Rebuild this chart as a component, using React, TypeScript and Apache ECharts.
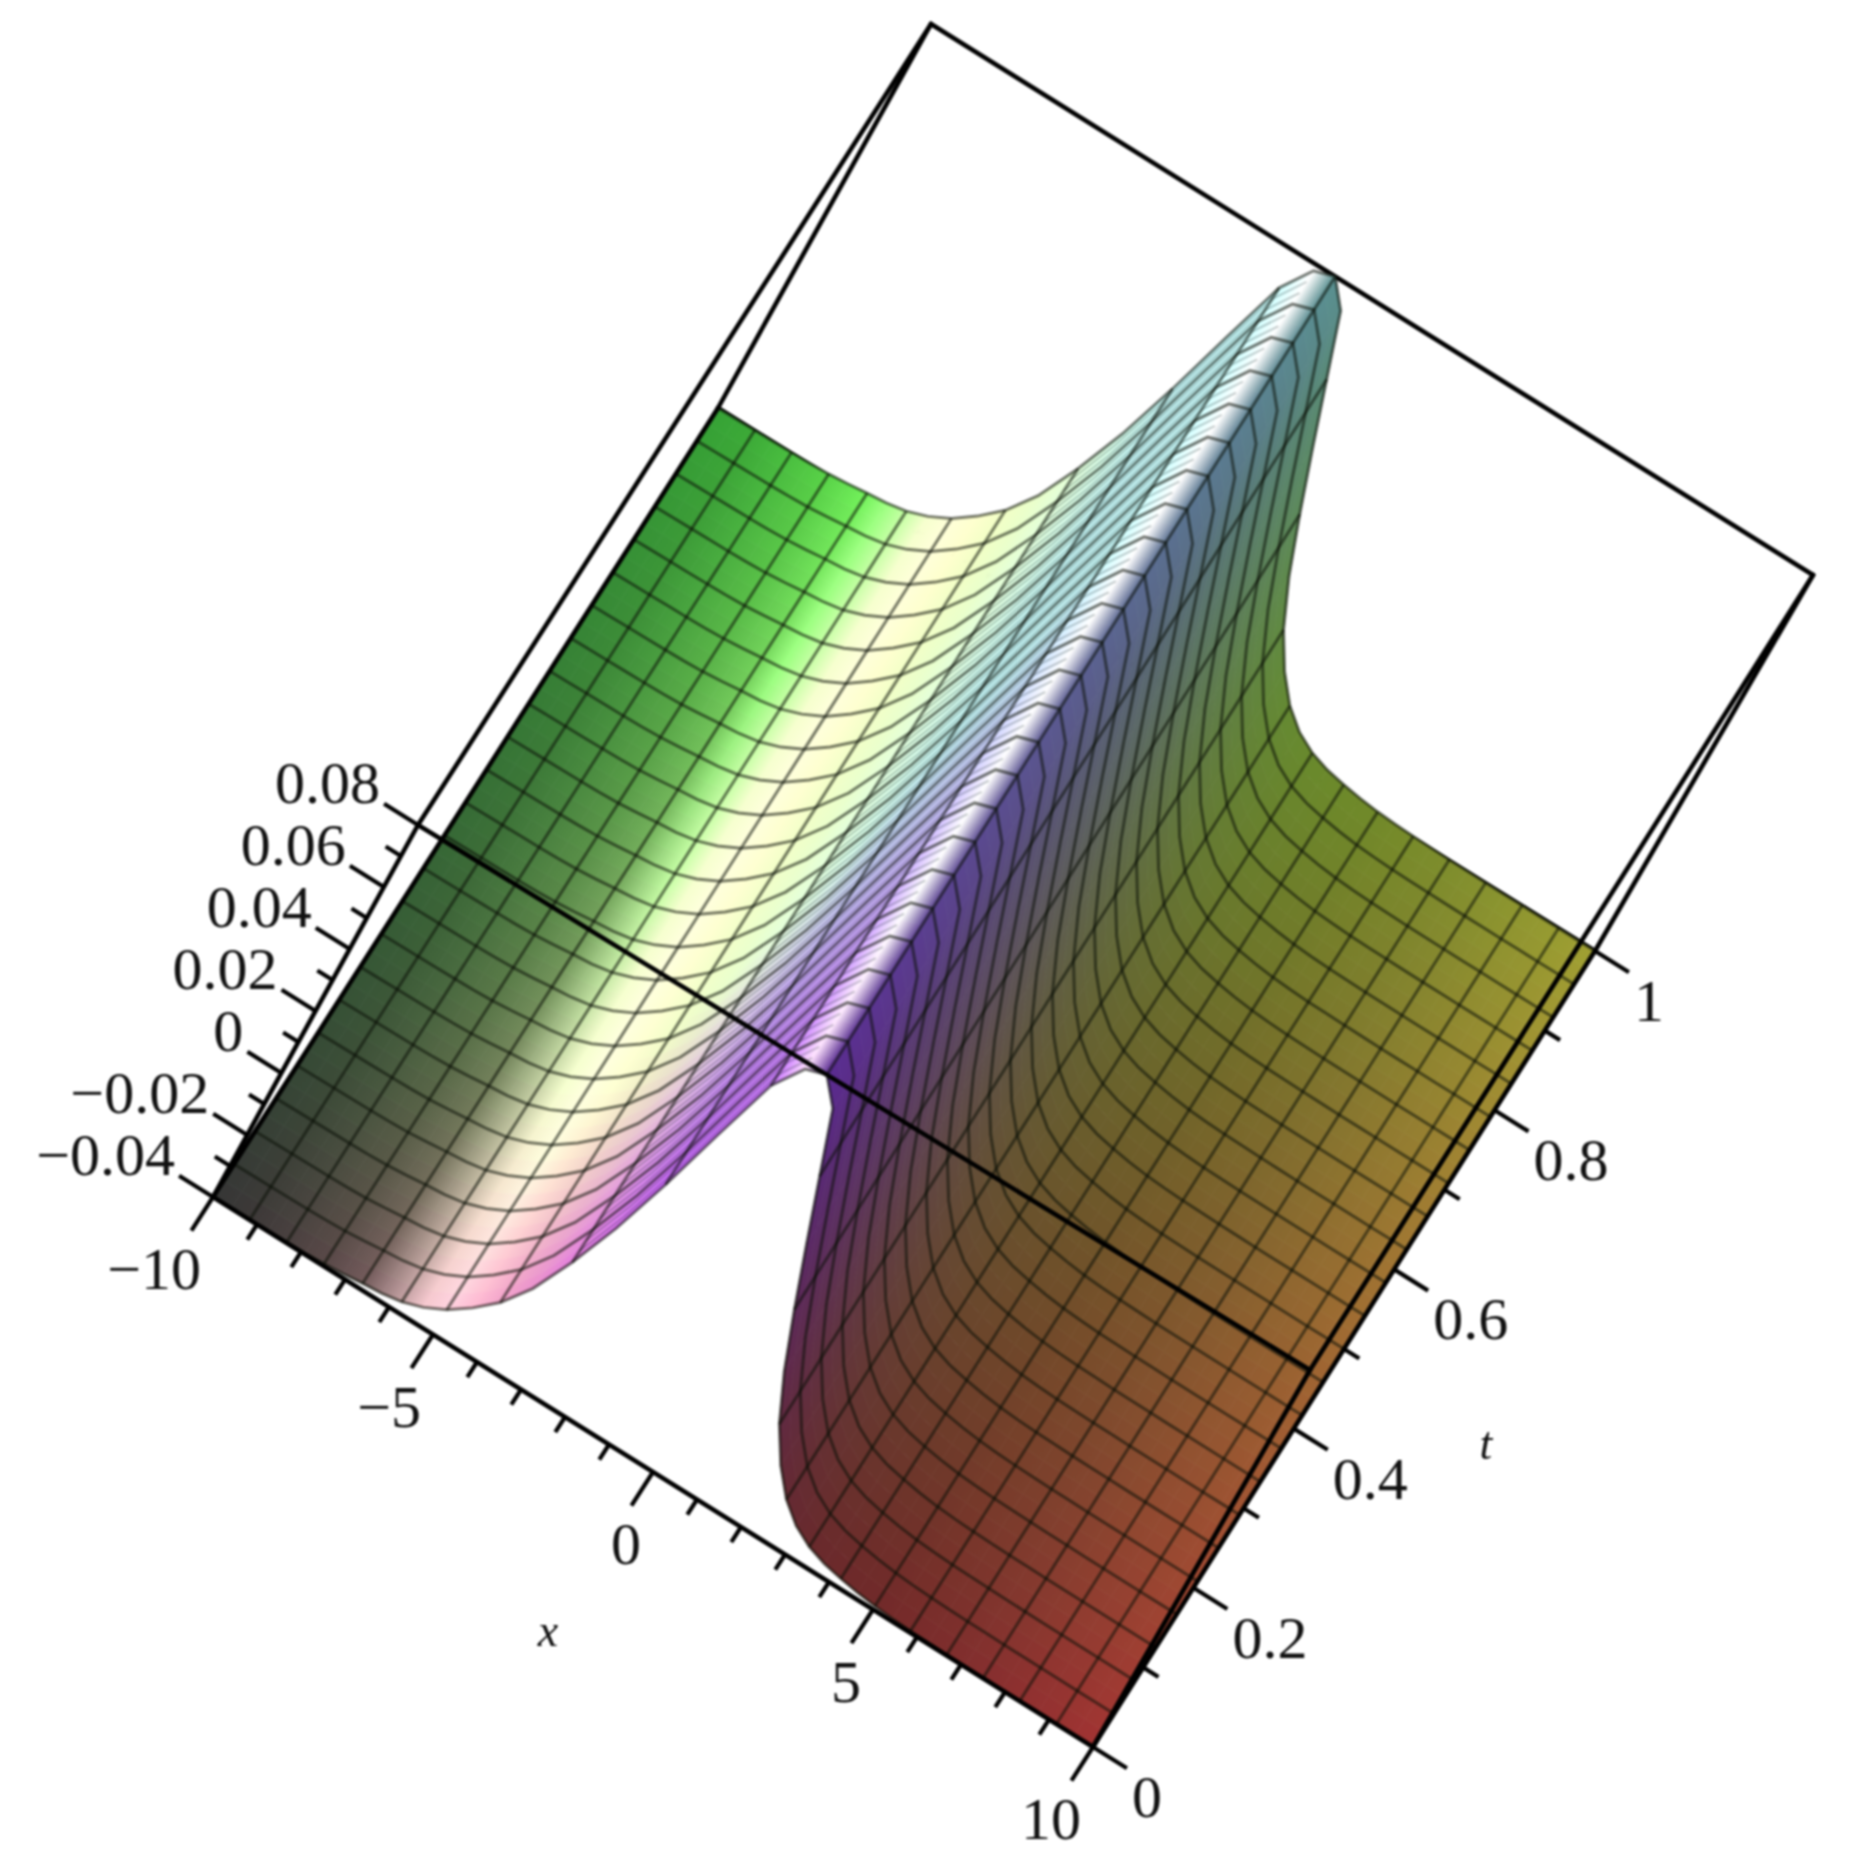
import React, { useEffect, useRef } from "react";
import * as echarts from "echarts";

const W = 1857;
const H = 1868;

// ---- data ----
// height of the surface at 49 equally spaced x from -10 to 10 (the profile does not change with t)
const profileZ = [
  -0.04, -0.03994, -0.03988, -0.03982, -0.03976, -0.03964, -0.0394, -0.03892, -0.03832, -0.03784,
  -0.03688, -0.03496, -0.03208, -0.02776, -0.02236, -0.0142, -0.00208, 0.01244, 0.0302, 0.05,
  0.0692, 0.0782, 0.08, 0.0728, 0.0548, 0.0368, 0.0194, 0.0032, -0.01, -0.0196,
  -0.0268, -0.0316, -0.0346, -0.0364, -0.03748, -0.03832, -0.03892, -0.03928, -0.03952, -0.03964,
  -0.03976, -0.03982, -0.03988, -0.03992, -0.03994, -0.03996, -0.03998, -0.03999, -0.04,
];
const xMajor = [-10, -5, 0, 5, 10];
const xMinor = [-9, -8, -7, -6, -4, -3, -2, -1, 1, 2, 3, 4, 6, 7, 8, 9];
const tMajor = [0, 0.2, 0.4, 0.6, 0.8, 1];
const tMinor = [0.1, 0.3, 0.5, 0.7, 0.9];
const zMajor = [-0.04, -0.02, 0, 0.02, 0.04, 0.06, 0.08];
const zMinor = [-0.03, -0.01, 0.01, 0.03, 0.05, 0.07];
const xLabels = ["\u221210", "\u22125", "0", "5", "10"];
const tLabels = ["0", "0.2", "0.4", "0.6", "0.8", "1"];
const zLabels = ["\u22120.04", "\u22120.02", "0", "0.02", "0.04", "0.06", "0.08"];

// lighting, per mesh column
const shadeIdx = [0, 1, 2, 3, 4, 5, 5.5, 6, 7, 8, 9, 10, 10.25, 10.5, 10.75, 11, 12, 14, 18, 20, 24];
const shadeS = [0.21, 0.22, 0.25, 0.28, 0.35, 0.63, 0.78, 0.82, 0.63, 0.49, 0.39, 0.47, 0.65, 0.88, 0.6, 0.17, 0.16, 0.16, 0.16, 0.176, 0.2];
const shadeD = [0.43, 0.45, 0.5, 0.55, 0.6, 0.7, 0.8, 0.9, 1.1, 1.2, 1.1, 0.8, 0.7, 0.6, 0.5, 0.4, 0.38, 0.38, 0.38, 0.38, 0.43];

// ---- view: where the eight corners of the box land on the page ----
const C = {
  b00: [213, 1197], b10: [1093, 1747], b01: [718, 408], b11: [1595, 951],
  u00: [418, 825], u10: [1310, 1370], u01: [931, 24], u11: [1813, 575],
};
const lerp = (a: number, b: number, f: number) => a + (b - a) * f;
function project(x: number, t: number, z: number): number[] {
  const a = (x + 10) / 20;
  const b = (z + 0.04) / 0.12;
  return [0, 1].map((k) => {
    const bot = lerp(lerp(C.b00[k], C.b10[k], a), lerp(C.b01[k], C.b11[k], a), t);
    const top = lerp(lerp(C.u00[k], C.u10[k], a), lerp(C.u01[k], C.u11[k], a), t);
    return lerp(bot, top, b);
  });
}

const N = profileZ.length - 1;
const xAt = (i: number) => -10 + (20 * i) / N;
const tAt = (j: number) => j / N;

function tableAt(tab: number[], idx: number) {
  for (let k = 0; k < shadeIdx.length - 1; k++) {
    if (idx <= shadeIdx[k + 1]) {
      const f = (idx - shadeIdx[k]) / (shadeIdx[k + 1] - shadeIdx[k]);
      return lerp(tab[k], tab[k + 1], f);
    }
  }
  return tab[tab.length - 1];
}
function colorAt(i: number, t: number): string {
  const idx = i / 2;
  const xn = i / N;
  const zn = (profileZ[i] + 0.04) / 0.12;
  const S = tableAt(shadeS, idx);
  const D = tableAt(shadeD, idx);
  const c = (v: number) => Math.round(255 * Math.min(1, Math.max(0, v)));
  const highlight = Math.min(1, Math.max(0, (10 - idx) / 3)) * Math.min(1, Math.max(0, (idx - 5) / 1));
  const bf = 1 - 0.13 * t * highlight;
  const bAdd = 0.1 * t * highlight;
  return `rgb(${c(S + D * xn)},${c(S + D * t)},${c((S + D * zn + bAdd) * bf)})`;
}

// ---- lists the series are built from ----
const cells: number[][] = [];
for (let i = 0; i < N; i++) for (let j = 0; j < N; j++) cells.push([i, j]);
const meshIds: number[][] = [];
for (let k = 0; k <= N; k += 2) {
  meshIds.push([0, k]); // x = const
  meshIds.push([1, k]); // t = const
}
// the fine striping seen on the steep flank, between x columns 16 and 21
const stripeFrom = 16;
const stripeTo = 21;
const stripeSteps = 72;
const stripeIds: number[][] = [];
for (let k = 1; k < stripeSteps; k++) if (k % 3 !== 0) stripeIds.push([k, 0]);

type Edge = number[][];
const zLo = -0.04;
const zHi = 0.08;
const backEdges: Edge[] = [
  [[-10, 1, zLo], [10, 1, zLo]],
  [[-10, 1, zLo], [-10, 1, zHi]],
  [[10, 1, zLo], [10, 1, zHi]],
  [[-10, 1, zHi], [10, 1, zHi]],
];
const frontEdges: Edge[] = [
  [[-10, 0, zLo], [10, 0, zLo]],
  [[-10, 0, zLo], [-10, 1, zLo]],
  [[10, 0, zLo], [10, 1, zLo]],
  [[-10, 0, zLo], [-10, 0, zHi]],
  [[10, 0, zLo], [10, 0, zHi]],
  [[-10, 0, zHi], [10, 0, zHi]],
  [[-10, 0, zHi], [-10, 1, zHi]],
  [[10, 0, zHi], [10, 1, zHi]],
];

const MAJ = 40;
const MIN = 18;
type Tick = { p: number[]; d: number[]; len: number };
const unit = (a: number[], b: number[]) => {
  const dx = b[0] - a[0];
  const dy = b[1] - a[1];
  const l = Math.hypot(dx, dy);
  return [dx / l, dy / l];
};
const dirX = unit(C.b10, C.b00);
const dirT = unit(C.b01, C.b00);
const dirR = unit(C.b00, C.b10);
const ticks: Tick[] = [
  ...xMajor.map((v) => ({ p: [v, 0, zLo], d: dirT, len: MAJ })),
  ...xMinor.map((v) => ({ p: [v, 0, zLo], d: dirT, len: MIN })),
  ...tMajor.map((v) => ({ p: [10, v, zLo], d: dirR, len: MAJ })),
  ...tMinor.map((v) => ({ p: [10, v, zLo], d: dirR, len: MIN })),
  ...zMajor.map((v) => ({ p: [-10, 0, v], d: dirX, len: MAJ })),
  ...zMinor.map((v) => ({ p: [-10, 0, v], d: dirX, len: MIN })),
];

type Lab = { text: string; p: number[]; off: number[]; align: string; italic?: boolean; size?: number };
const labels: Lab[] = [
  ...xMajor.map((v, i) => ({ text: xLabels[i], p: [v, 0, zLo], off: [-12, 72], align: "right" })),
  ...tMajor.map((v, i) => ({ text: tLabels[i], p: [10, v, zLo], off: [39, 50], align: "left" })),
  ...zMajor.map((v, i) => ({ text: zLabels[i], p: [-10, 0, v], off: [-38, -42], align: "right" })),
  { text: "x", p: [0, 0, zLo], off: [-105, 158], align: "center", italic: true, size: 46 },
  { text: "t", p: [10, 0.5, zLo], off: [142, 94], align: "center", italic: true, size: 46 },
];

const BLACK = "#000";

function edgeSeries(edges: Edge[], z: number, name: string) {
  return {
    type: "custom",
    name,
    z,
    silent: true,
    clip: false,
    animation: false,
    data: edges.map((_, i) => [i, 0]),
    encode: { x: 0, y: 1 },
    renderItem: (params: any, api: any) => {
      const e = edges[params.dataIndex];
      const a = api.coord(project(e[0][0], e[0][1], e[0][2]));
      const b = api.coord(project(e[1][0], e[1][1], e[1][2]));
      return {
        type: "line",
        shape: { x1: a[0], y1: a[1], x2: b[0], y2: b[1] },
        style: { stroke: BLACK, lineWidth: 4.6, lineCap: "round" },
      };
    },
  };
}

export default function App() {
  const ref = useRef<HTMLDivElement>(null);
  useEffect(() => {
    document.body.style.margin = "0";
    const chart = echarts.init(ref.current!, undefined, { renderer: "svg", width: W, height: H });
    chart.setOption({
      animation: false,
      backgroundColor: "#fff",
      grid: { left: 0, right: 0, top: 0, bottom: 0 },
      xAxis: { type: "value", min: 0, max: W, show: false },
      yAxis: { type: "value", min: 0, max: H, inverse: true, show: false },
      series: [
        edgeSeries(backEdges, 1, "back of box"),
        {
          type: "custom",
          name: "surface",
          z: 2,
          silent: true,
          clip: false,
          progressive: 0,
          data: cells,
          encode: { x: 0, y: 1 },
          renderItem: (params: any, api: any) => {
            const i = api.value(0);
            const j = api.value(1);
            const P = (ii: number, jj: number) => api.coord(project(xAt(ii), tAt(jj), profileZ[ii]));
            const a = P(i, j);
            const b = P(i + 1, j);
            const c = P(i + 1, j + 1);
            const d = P(i, j + 1);
            const tm = (j + 0.5) / N;
            const lm = [(a[0] + d[0]) / 2, (a[1] + d[1]) / 2];
            const rm = [(b[0] + c[0]) / 2, (b[1] + c[1]) / 2];
            const te = unit(a, d);
            const n = [-te[1], te[0]];
            const w = (rm[0] - lm[0]) * n[0] + (rm[1] - lm[1]) * n[1];
            const fill = new echarts.graphic.LinearGradient(
              lm[0],
              lm[1],
              lm[0] + n[0] * w,
              lm[1] + n[1] * w,
              [
                { offset: 0, color: colorAt(i, tm) },
                { offset: 1, color: colorAt(i + 1, tm) },
              ],
              true
            );
            return {
              type: "polygon",
              shape: { points: [a, b, c, d] },
              style: { fill, stroke: fill, lineWidth: 0.8 },
            };
          },
        },
        {
          type: "custom",
          name: "stripes",
          z: 3,
          silent: true,
          clip: false,
          progressive: 0,
          data: stripeIds,
          encode: { x: 0, y: 1 },
          renderItem: (params: any, api: any) => {
            const t = api.value(0) / stripeSteps;
            const pts: number[][] = [];
            for (let m = stripeFrom; m <= stripeTo; m++) {
              pts.push(api.coord(project(xAt(m), t, profileZ[m])));
            }
            return {
              type: "polyline",
              shape: { points: pts },
              style: { fill: "none", stroke: "rgba(30,50,50,0.3)", lineWidth: 1.6 },
            };
          },
        },
        {
          type: "custom",
          name: "mesh",
          z: 3,
          silent: true,
          clip: false,
          progressive: 0,
          data: meshIds,
          encode: { x: 0, y: 1 },
          renderItem: (params: any, api: any) => {
            const kind = api.value(0);
            const k = api.value(1);
            const pts: number[][] = [];
            for (let m = 0; m <= N; m++) {
              pts.push(
                kind === 0
                  ? api.coord(project(xAt(k), tAt(m), profileZ[k]))
                  : api.coord(project(xAt(m), tAt(k), profileZ[m]))
              );
            }
            return {
              type: "polyline",
              shape: { points: pts },
              style: { fill: "none", stroke: "rgba(10,15,5,0.55)", lineWidth: 3 },
            };
          },
        },
        edgeSeries(frontEdges, 4, "front of box"),
        {
          type: "custom",
          name: "ticks",
          z: 4,
          silent: true,
          clip: false,
          data: ticks.map((_, i) => [i, 0]),
          encode: { x: 0, y: 1 },
          renderItem: (params: any, api: any) => {
            const tk = ticks[params.dataIndex];
            const a = api.coord(project(tk.p[0], tk.p[1], tk.p[2]));
            return {
              type: "line",
              shape: { x1: a[0], y1: a[1], x2: a[0] + tk.d[0] * tk.len, y2: a[1] + tk.d[1] * tk.len },
              style: { stroke: BLACK, lineWidth: 4.2 },
            };
          },
        },
        {
          type: "custom",
          name: "labels",
          z: 5,
          silent: true,
          clip: false,
          data: labels.map((_, i) => [i, 0]),
          encode: { x: 0, y: 1 },
          renderItem: (params: any, api: any) => {
            const l = labels[params.dataIndex];
            const a = api.coord(project(l.p[0], l.p[1], l.p[2]));
            return {
              type: "text",
              style: {
                text: l.text,
                x: a[0] + l.off[0],
                y: a[1] + l.off[1],
                fill: "#111",
                align: l.align,
                verticalAlign: "middle",
                font: `${l.italic ? "italic " : ""}${l.size || 60}px "Liberation Serif"`,
              },
            };
          },
        },
      ],
    });
    return () => chart.dispose();
  }, []);
  return (
    <div
      ref={ref}
      style={{ position: "absolute", left: 0, top: 0, width: W, height: H, filter: "blur(1px)" }}
    />
  );
}
